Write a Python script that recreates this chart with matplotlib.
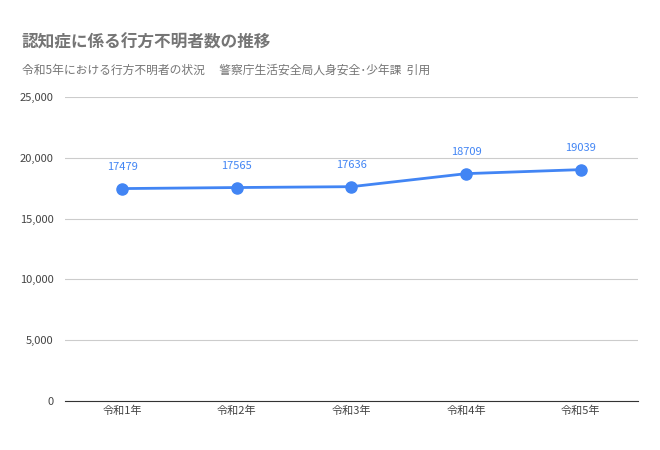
import matplotlib
matplotlib.use("Agg")
import matplotlib.pyplot as plt

categories = ["令和1年", "令和2年", "令和3年", "令和4年", "令和5年"]
values = [17479, 17565, 17636, 18709, 19039]
yticks = [0, 5000, 10000, 15000, 20000, 25000]

plt.rcParams["font.family"] = "Noto Sans CJK JP"
fig = plt.figure(figsize=(6.6, 4.5), dpi=100)
ax = fig.add_axes([0.098, 0.109, 0.869, 0.675])
x = range(len(categories))
ax.plot(x, values, color="#4285F4", lw=2, marker="o", ms=8)
for xi, v in zip(x, values):
    ax.annotate(str(v), (xi, v), xytext=(0, 12), textcoords="offset points",
                ha="center", va="bottom", color="#4285F4", fontsize=8)
ax.set_xlim(-0.5, len(categories) - 0.5)
ax.set_ylim(0, 25000)
ax.set_yticks(yticks)
ax.set_yticklabels([f"{t:,}" for t in yticks])
ax.set_xticks(list(x))
ax.set_xticklabels(categories)
ax.tick_params(length=0, labelsize=8, colors="#444444")
ax.tick_params(axis="y", pad=8)
ax.grid(axis="y", color="#cccccc", lw=0.8)
for s in ["top", "right", "left"]:
    ax.spines[s].set_visible(False)
ax.spines["bottom"].set_color("#333333")
ax.set_axisbelow(True)
fig.text(0.033, 0.906, "認知症に係る行方不明者数の推移", fontsize=12, fontweight="bold",
         color="#757575", va="center")
fig.text(0.033, 0.845, "令和5年における行方不明者の状況　 警察庁生活安全局人身安全･少年課  引用",
         fontsize=8.5, color="#757575", va="center")
fig.savefig("out.png", dpi=100)
